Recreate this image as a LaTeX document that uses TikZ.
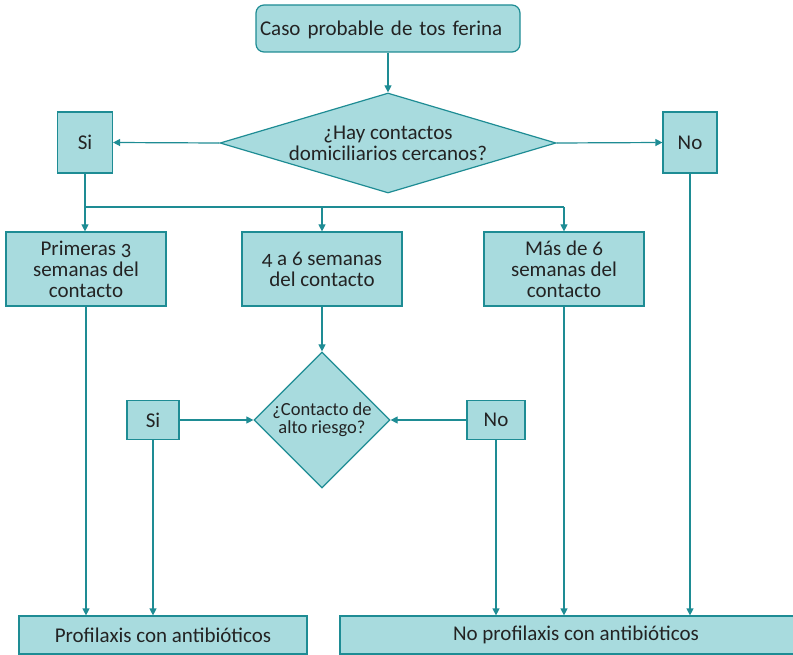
\documentclass[tikz,border=0pt]{standalone}
\usepackage{fontspec}
\setmainfont{Carlito}[Numbers=OldStyle]
\usetikzlibrary{shapes.geometric,arrows.meta}
\definecolor{boxfill}{RGB}{168,219,222}
\definecolor{boxline}{RGB}{30,140,148}
\definecolor{txt}{RGB}{35,35,35}
\tikzset{
  box/.style={draw=boxline, fill=boxfill, line width=1.2pt, align=center, inner sep=2pt, text=txt},
  dec/.style={box, diamond, inner sep=-14pt},
  arr/.style={draw=boxline, line width=1.2pt, -{Triangle[width=7pt,length=7pt]}},
  ln/.style={draw=boxline, line width=1.2pt}
}
\begin{document}
\begin{tikzpicture}[x=1pt, y=-1pt, font=\fontsize{21}{21}\selectfont]
    \useasboundingbox (0,0) rectangle (793,655);
    % first question
    \node [box, rounded corners=8pt, minimum width=264pt, minimum height=47pt, text width=256pt, align=left, text depth=-3pt] (caso) at (388,28.5) {Caso probable de tos ferina};
    \node [dec, minimum width=336pt, minimum height=100pt, aspect=3.36] (hay) at (388,143) {¿Hay contactos\\domiciliarios cercanos?};
    \node [box, minimum width=55pt, minimum height=61pt] (si) at (85,142.5) {Si};
    \node [box, minimum width=54pt, minimum height=61pt] (no) at (690,142.5) {No};

    % time since contact
    \node [box, minimum width=160pt, minimum height=74pt] (A) at (86,269) {Primeras 3\\semanas del\\contacto};
    \node [box, minimum width=160pt, minimum height=74pt] (B) at (322,269) {4 a 6 semanas\\del contacto};
    \node [box, minimum width=160pt, minimum height=74pt] (C) at (564,269) {Más de 6\\semanas del\\contacto};

    % second question
    \node [dec, minimum width=136pt, minimum height=136pt, aspect=1, font=\fontsize{18.5}{18}\selectfont] (riesgo) at (322,420) {¿Contacto de\\alto riesgo?};
    \node [box, minimum width=52pt, minimum height=39pt] (si2) at (153,420) {Si};
    \node [box, minimum width=58pt, minimum height=39pt] (no2) at (496,420) {No};

    % outcomes
    \node [box, minimum width=288pt, minimum height=38pt] (prof) at (163,635) {Profilaxis con antibióticos};
    \node [box, minimum width=472pt, minimum height=38pt] (noprof) at (576,635) {No profilaxis con antibióticos};

    \coordinate (fork) at (86,207);

    \draw [arr] (caso) -- (hay);
    \draw [arr] (hay.west) -- (si.east);
    \draw [arr] (hay.east) -- (no.west);
    \draw [ln] (fork) -- (fork -| C.north);
    \draw [arr] (si.south) -- (si.south |- A.north);
    \draw [arr] (fork -| B.north) -- (B.north);
    \draw [arr] (fork -| C.north) -- (C.north);
    \draw [arr] (B) -- (riesgo);
    \draw [arr] (si2) -- (riesgo);
    \draw [arr] (no2) -- (riesgo);
    \draw [arr] (A.south) -- (A.south |- prof.north);
    \draw [arr] (si2.south) -- (si2.south |- prof.north);
    \draw [arr] (no2.south) -- (no2.south |- noprof.north);
    \draw [arr] (C.south) -- (C.south |- noprof.north);
    \draw [arr] (no.south) -- (no.south |- noprof.north);
\end{tikzpicture}
\end{document}
